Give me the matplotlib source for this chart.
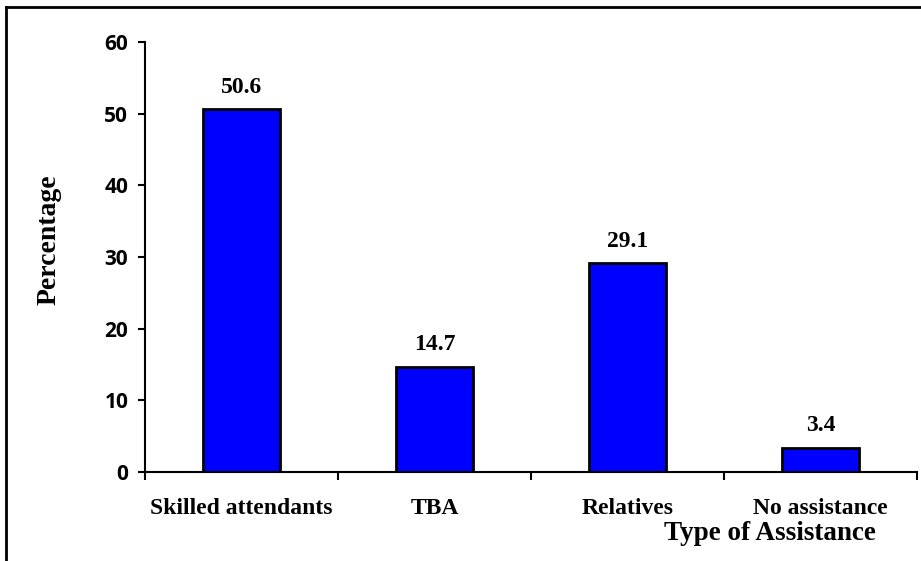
import matplotlib.pyplot as plt
from matplotlib.lines import Line2D

# Type of assistance at delivery
categories = ['Skilled attendants', 'TBA', 'Relatives', 'No assistance']
percentages = [50.6, 14.7, 29.1, 3.4]
yticks = [0, 10, 20, 30, 40, 50, 60]

serif = 'Liberation Serif'
sans = 'Open Sans'

fig = plt.figure(figsize=(9.21, 5.61), dpi=100)
ax = fig.add_axes([0.1574, 0.1586, 0.8383, 0.7665])

pos = [i + 0.5 for i in range(len(categories))]
ax.bar(pos, percentages, width=0.4, color='#0000ff', edgecolor='black', linewidth=2, zorder=2)

for x, v in zip(pos, percentages):
    ax.annotate(f'{v}', (x, v), xytext=(0, 12), textcoords='offset points',
                ha='center', va='baseline', fontsize=17, fontweight='bold', family=serif)

ax.set_xlim(0, len(categories))
ax.set_ylim(0, 60)
ax.set_yticks(yticks)
ax.set_yticklabels([str(t) for t in yticks], fontsize=15, fontweight='bold', family=sans)

# category boundaries get the tick marks, names sit between them
ax.set_xticks(range(len(categories) + 1))
ax.set_xticklabels([])
ax.set_xticks(pos, minor=True)
ax.set_xticklabels(categories, minor=True, fontsize=17, fontweight='bold', family=serif)
ax.tick_params(axis='x', which='minor', length=0, pad=19)
ax.tick_params(axis='x', which='major', direction='out', length=6, width=1.5)
ax.tick_params(axis='y', direction='out', length=5, width=1.5, pad=7)

for side in ['top', 'right']:
    ax.spines[side].set_visible(False)
for side in ['left', 'bottom']:
    ax.spines[side].set_linewidth(1.5)

fig.text(0.053, 0.572, 'Percentage', rotation=90, ha='center', va='center',
         fontsize=20, fontweight='bold', family=serif)
fig.text(0.836, 0.0374, 'Type of Assistance', ha='center', va='baseline',
         fontsize=19.5, fontweight='bold', family=serif)

# outer frame: left and top edges only
fig.add_artist(Line2D([0.0065, 0.0065], [0.0, 0.988], transform=fig.transFigure, color='black', linewidth=2))
fig.add_artist(Line2D([0.0065, 1.0], [0.988, 0.988], transform=fig.transFigure, color='black', linewidth=2))

fig.savefig('out.png', dpi=100)
